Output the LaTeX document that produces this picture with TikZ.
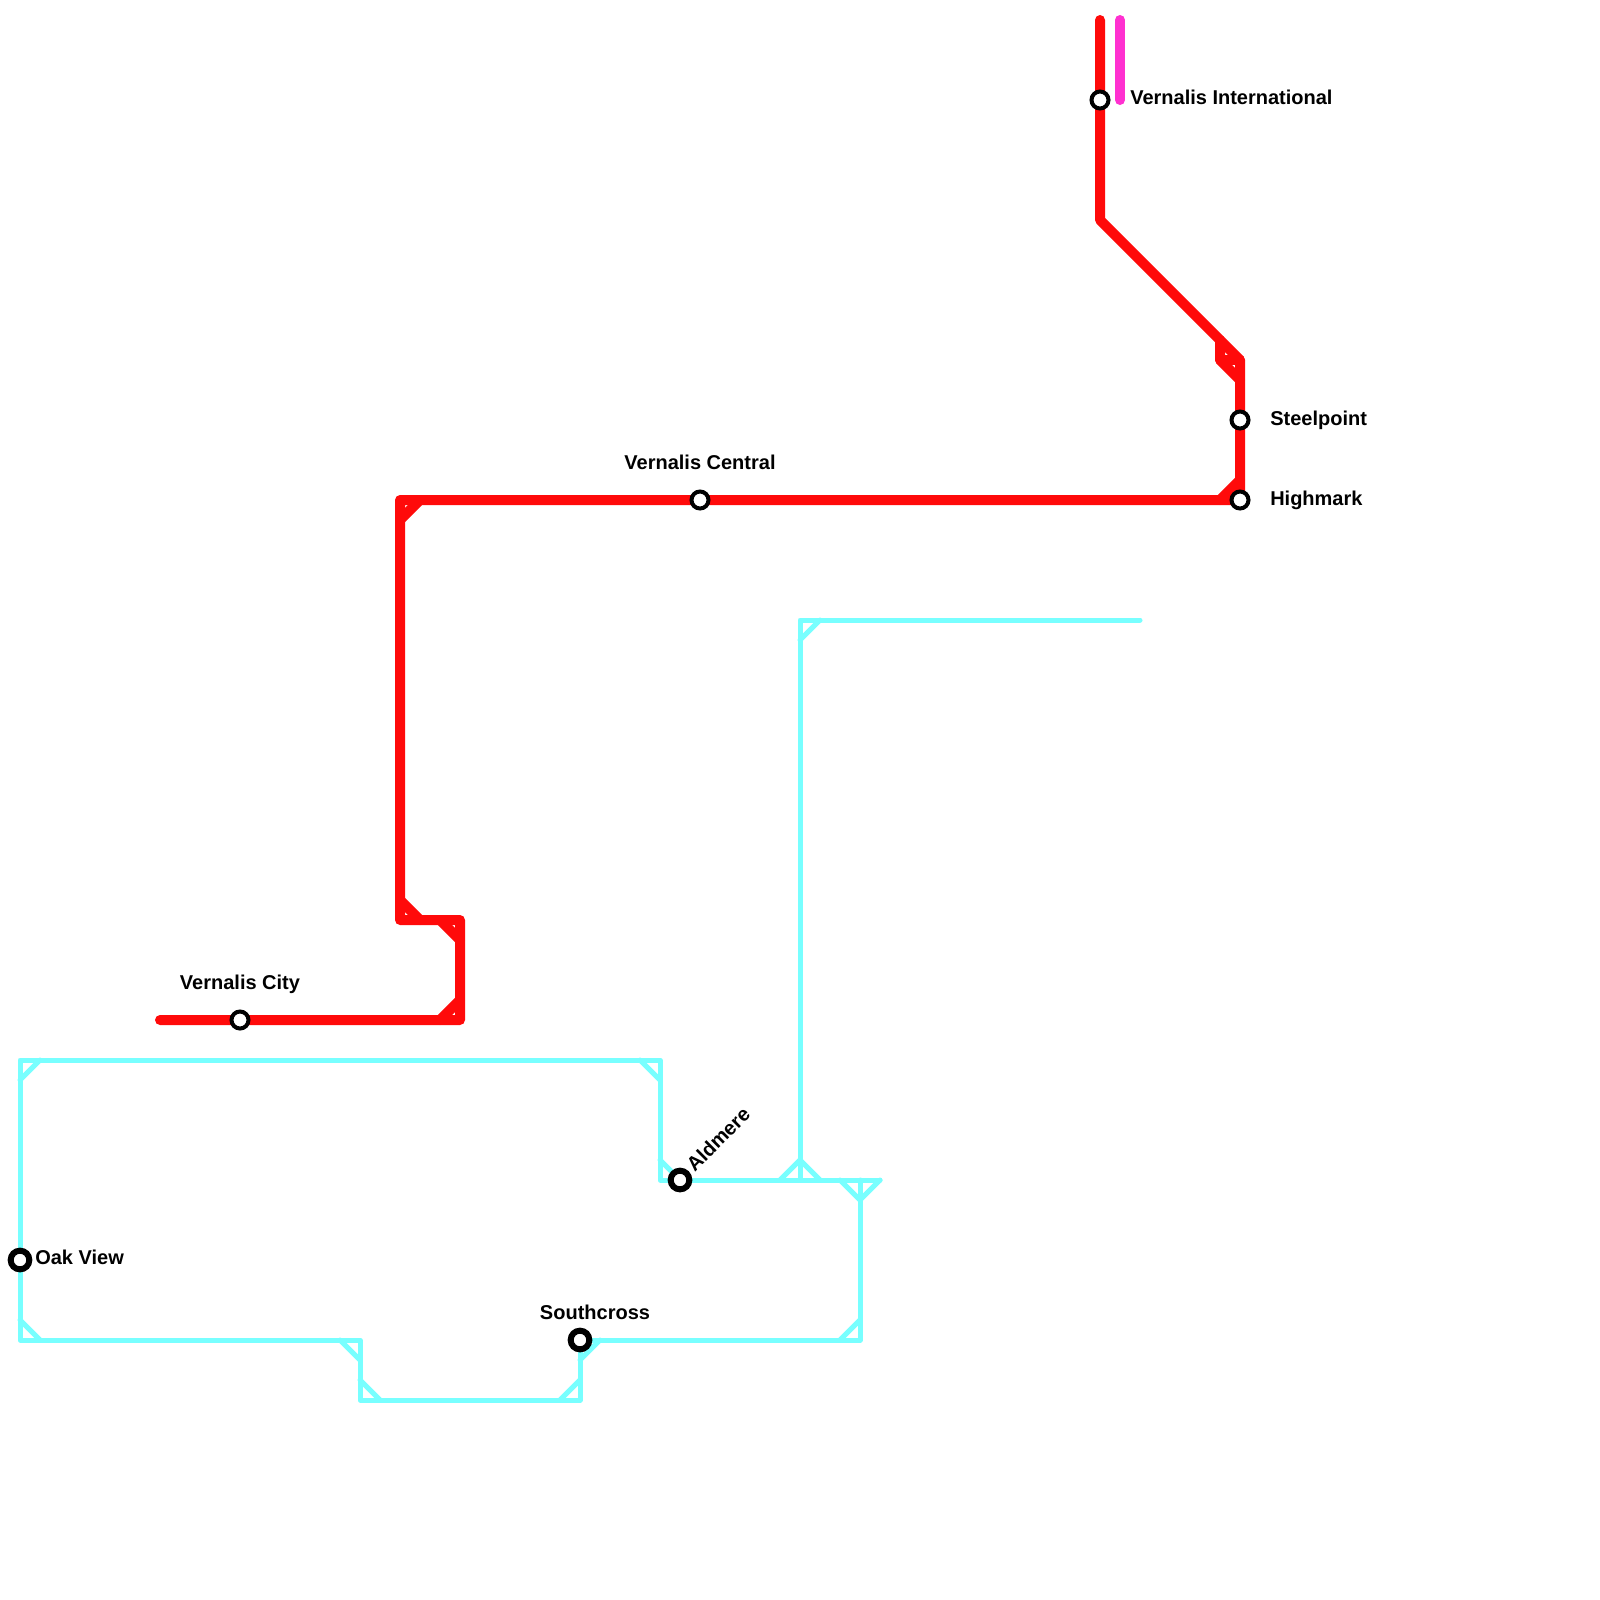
\documentclass[tikz,border=0pt]{standalone}
\usepackage{fontspec}
\setmainfont{Liberation Sans}
\definecolor{redline}{RGB}{255,10,10}
\definecolor{cyanline}{RGB}{120,255,255}
\definecolor{pinkline}{RGB}{255,48,208}
\usetikzlibrary{
  positioning,
  backgrounds
}
\tikzset{
  redtrack/.style={draw=redline, line width=7.5pt, line cap=round, line join=round},
  cyantrack/.style={draw=cyanline, line width=3.75pt, line cap=round, line join=round},
  pinktrack/.style={draw=pinkline, line width=7.5pt, line cap=round},
  stop/.style={circle, draw=black, fill=white, line width=3pt,
    inner sep=0pt, minimum size=12.75pt},
  bigstop/.style={circle, draw=black, fill=white, line width=4.5pt,
    inner sep=0pt, minimum size=14pt},
  stoplabel/.style={font=\bfseries\fontsize{15}{17}\selectfont, inner sep=0pt},
}

\begin{document}
\begin{tikzpicture}[x=0.75pt, y=-0.75pt]
  \useasboundingbox (0,0) rectangle (1600,1600);

  % Stations on the red line
  \node[stop] (vint) at (1100,100) {};
  \node[stop] (steel) at (1240,420) {};
  \node[stop] (high) at (1240,500) {};
  \node[stop] (vcen) at (700,500) {};
  \node[stop] (vcity) at (240,1020) {};

  % Stations on the cyan line
  \node[bigstop] (ald) at (680,1180) {};
  \node[bigstop] (oak) at (20,1260) {};
  \node[bigstop] (south) at (580,1340) {};

  % Labels
  \node[stoplabel, anchor=west] (vintl) at (1130,97) {Vernalis International};
  \node[stoplabel, anchor=west, right=22.5pt of steel.center] (steell) {Steelpoint};
  \node[stoplabel, anchor=west, right=22.5pt of high.center] (highl) {Highmark};
  \node[stoplabel, above=28pt of vcen.center, anchor=center] (vcenl) {Vernalis Central};
  \node[stoplabel, above=27pt of vcity.center, anchor=center] (vcityl) {Vernalis City};
  \node[stoplabel, anchor=west] (oakl) at (35,1257) {Oak View};
  \node[stoplabel, anchor=center] (southl) at (595,1312) {Southcross};
  \node[stoplabel, rotate=45, anchor=south west] (aldl) at (695,1173) {Aldmere};

  % Bends
  \coordinate (rtop) at (1100,20);
  \coordinate (rknee) at (1100,220);
  \coordinate (rdiag) at (1240,360);
  \coordinate (rcorner) at (400,500);
  \coordinate (rlow) at (400,920);
  \coordinate (rstep) at (460,920);
  \coordinate (rfoot) at (460,1020);
  \coordinate (rend) at (160,1020);
  \coordinate (ptop) at (1120,20);
  \coordinate (pend) at (1120,100);
  \coordinate (ctl) at (20,1060);
  \coordinate (ctr) at (660,1060);
  \coordinate (cjog) at (660,1180);
  \coordinate (cjoin) at (800,1180);
  \coordinate (cfork) at (860,1180);
  \coordinate (cstub) at (880,1180);
  \coordinate (cup) at (800,620);
  \coordinate (cfar) at (1140,620);
  \coordinate (cbr) at (860,1340);
  \coordinate (cbl) at (20,1340);
  \coordinate (cdipl) at (360,1340);
  \coordinate (cdipbl) at (360,1400);
  \coordinate (cdipbr) at (580,1400);

  \begin{pgfonlayer}{background}
    % Red line and its corner pieces
    \draw[redtrack] (rtop) -- (vint.center) -- (rknee) -- (rdiag) -- (steel.center)
      -- (high.center) -- (vcen.center) -- (rcorner) -- (rlow) -- (rstep) -- (rfoot)
      -- (vcity.center) -- (rend);
    \draw[redtrack] (rdiag) ++(-20,-20) -- ++(0,20) -- ++(20,20);
    \draw[redtrack] (rdiag) ++(-20,0) -- ++(20,0);
    \draw[redtrack] (high) ++(-20,0) -- ++(20,-20);
    \draw[redtrack] (rcorner) ++(0,20) -- ++(20,-20);
    \draw[redtrack] (rlow) ++(0,-20) -- ++(20,20);
    \draw[redtrack] (rstep) ++(-20,0) -- ++(20,20);
    \draw[redtrack] (rfoot) ++(-20,0) -- ++(20,-20);

    % Pink stub
    \draw[pinktrack] (ptop) -- (pend);

    % Cyan line and its corner pieces
    \draw[cyantrack] (oak.center) -- (ctl) -- (ctr) -- (cjog) -- (ald.center) -- (cjoin)
      -- (cfork) -- (cstub);
    \draw[cyantrack] (cjoin) -- (cup) -- (cfar);
    \draw[cyantrack] (cfork) -- (cbr) -- (south.center) -- (cdipbr) -- (cdipbl)
      -- (cdipl) -- (cbl) -- (oak.center);
    \draw[cyantrack] (ctl) ++(0,20) -- ++(20,-20);
    \draw[cyantrack] (ctr) ++(-20,0) -- ++(20,20);
    \draw[cyantrack] (cjog) ++(0,-20) -- ++(20,20);
    \draw[cyantrack] (cjoin) ++(-20,0) -- ++(20,-20) -- ++(20,20);
    \draw[cyantrack] (cfork) ++(-20,0) -- ++(20,20) -- ++(20,-20);
    \draw[cyantrack] (cup) ++(0,20) -- ++(20,-20);
    \draw[cyantrack] (cbr) ++(0,-20) -- ++(-20,20);
    \draw[cyantrack] (cbl) ++(0,-20) -- ++(20,20);
    \draw[cyantrack] (cdipl) ++(-20,0) -- ++(20,20);
    \draw[cyantrack] (cdipbl) ++(0,-20) -- ++(20,20);
    \draw[cyantrack] (cdipbr) ++(-20,0) -- ++(20,-20);
    \draw[cyantrack] (south) ++(0,20) -- ++(20,-20);
  \end{pgfonlayer}
\end{tikzpicture}
\end{document}
